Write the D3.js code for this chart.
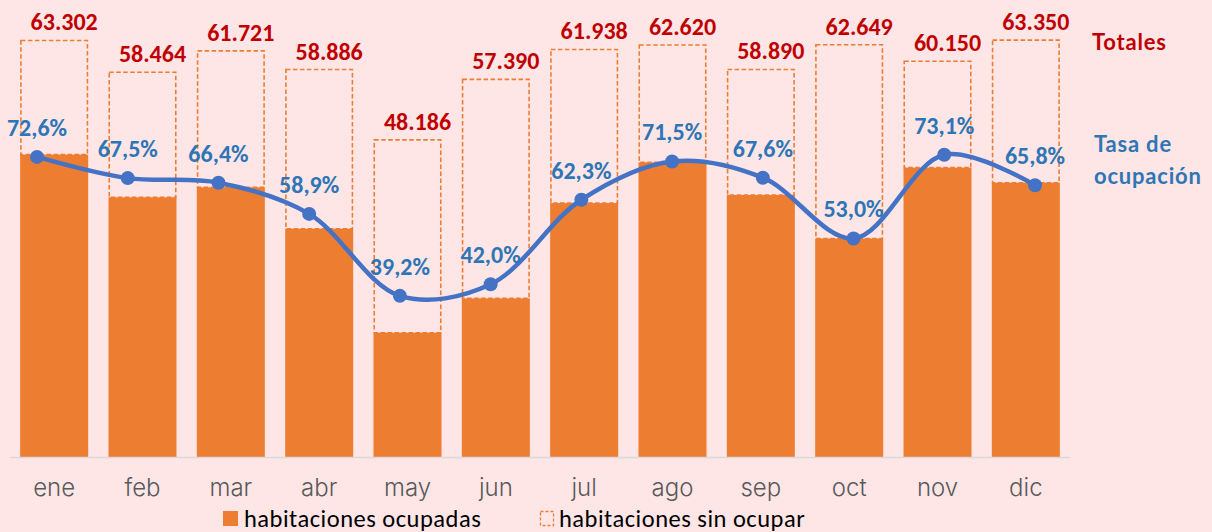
<!DOCTYPE html>
<html>
<head>
<meta charset="utf-8">
<script src="https://cdn.jsdelivr.net/npm/d3@7"></script>
<style>
  html, body { margin: 0; padding: 0; background: #fee6e7; }
  svg { display: block; }
</style>
</head>
<body>
<svg id="chart" width="1212" height="532"></svg>
<script>
// months, totals (rooms), occupied rooms and occupancy rate
const months = ["ene", "feb", "mar", "abr", "may", "jun", "jul", "ago", "sep", "oct", "nov", "dic"];
const totals = [63302, 58464, 61721, 58886, 48186, 57390, 61938, 62620, 58890, 62649, 60150, 63350];
const occupied = [45957, 39463, 40983, 34684, 18889, 24104, 38587, 44773, 39810, 33204, 43970, 41684];
const rate = [72.6, 67.5, 66.4, 58.9, 39.2, 42.0, 62.3, 71.5, 67.6, 53.0, 73.1, 65.8];

const orange = "#ed7d31";
const blue_line = "#4472c4";
const blue_text = "#2e75b6";
const red_text = "#c00000";

const svg = d3.select("#chart");
const fmt_total = (v) => d3.format(",")(v).replace(/,/g, ".");
const fmt_rate = (v) => v.toFixed(1).replace(".", ",") + "%";

const x = d3.scaleBand().domain(months).range([10, 1070]).paddingInner(0.23).paddingOuter(0.115);
// line sits on its own (secondary) category axis
const x2 = d3.scalePoint().domain(months).range([37, 1035]);
const y = d3.scaleLinear().domain([0, 69450]).range([457, 0]);
const y2 = d3.scaleLinear().domain([0, 110.3]).range([459, 0]);

const rows = months.map((m, i) => ({ m, total: totals[i], occ: occupied[i], rate: rate[i] }));

// occupied bars
svg.append("g").selectAll("rect")
  .data(rows).join("rect")
  .attr("x", (d) => x(d.m))
  .attr("width", x.bandwidth())
  .attr("y", (d) => y(d.occ))
  .attr("height", (d) => y(0) - y(d.occ))
  .attr("fill", orange);

// unoccupied part, dashed outline
svg.append("g").selectAll("rect")
  .data(rows).join("rect")
  .attr("x", (d) => x(d.m) + 0.75)
  .attr("width", x.bandwidth() - 1.5)
  .attr("y", (d) => y(d.total))
  .attr("height", (d) => y(d.occ) - y(d.total))
  .attr("fill", "none")
  .attr("stroke", orange)
  .attr("stroke-width", 1.6)
  .attr("stroke-dasharray", "4.5,2.5");

// baseline
svg.append("line")
  .attr("x1", 10).attr("x2", 1070)
  .attr("y1", 457.5).attr("y2", 457.5)
  .attr("stroke", "#d9d9d9").attr("stroke-width", 1.5);

// month labels
svg.append("g").selectAll("text")
  .data(months).join("text")
  .attr("x", (d) => x(d) + x.bandwidth() / 2)
  .attr("y", 496)
  .attr("text-anchor", "middle")
  .attr("font-family", "'Century Gothic', Inter, sans-serif")
  .attr("font-weight", 300)
  .attr("font-size", 24)
  .attr("fill", "#595959")
  .text((d) => d);

// totals
svg.append("g").selectAll("text")
  .data(rows).join("text")
  .attr("x", (d) => x(d.m) + x.bandwidth() / 2 + 10)
  .attr("y", (d) => y(d.total) - 10)
  .attr("text-anchor", "middle")
  .attr("font-family", "Calibri, Lato, sans-serif")
  .attr("font-weight", "bold")
  .attr("font-size", 24)
  .attr("fill", red_text)
  .text((d) => fmt_total(d.total));

// occupancy line
const line = d3.line()
  .x((d) => x2(d.m))
  .y((d) => y2(d.rate))
  .curve(d3.curveCatmullRom.alpha(0.5));

svg.append("path")
  .datum(rows)
  .attr("d", line)
  .attr("fill", "none")
  .attr("stroke", blue_line)
  .attr("stroke-width", 4.5)
  .attr("stroke-linecap", "round");

svg.append("g").selectAll("circle")
  .data(rows).join("circle")
  .attr("cx", (d) => x2(d.m))
  .attr("cy", (d) => y2(d.rate))
  .attr("r", 7)
  .attr("fill", blue_line);

svg.append("g").selectAll("text")
  .data(rows).join("text")
  .attr("x", (d) => x2(d.m))
  .attr("y", (d) => y2(d.rate) - 21)
  .attr("text-anchor", "middle")
  .attr("font-family", "Calibri, Lato, sans-serif")
  .attr("font-weight", "bold")
  .attr("font-size", 24)
  .attr("fill", blue_text)
  .text((d) => fmt_rate(d.rate));

// side labels
const side = svg.append("g")
  .attr("font-family", "'Century Gothic', Lato, sans-serif")
  .attr("font-weight", "bold")
  .attr("font-size", 22)
  .attr("letter-spacing", 0.8);
side.append("text").attr("x", 1092).attr("y", 50).attr("fill", red_text).text("Totales");
side.append("text").attr("x", 1094).attr("y", 152).attr("fill", blue_text).text("Tasa de");
side.append("text").attr("x", 1094).attr("y", 184).attr("fill", blue_text).text("ocupación");

// legend
const legend = svg.append("g")
  .attr("font-family", "Calibri, Lato, sans-serif")
  .attr("font-size", 24.5)
  .attr("letter-spacing", 0.5)
  .attr("fill", "#000");
legend.append("rect").attr("x", 223).attr("y", 511).attr("width", 15).attr("height", 15).attr("fill", orange);
legend.append("text").attr("x", 244).attr("y", 526.5).text("habitaciones ocupadas");
legend.append("rect").attr("x", 540.5).attr("y", 511.5).attr("width", 13).attr("height", 14)
  .attr("fill", "none").attr("stroke", orange).attr("stroke-width", 1.3).attr("stroke-dasharray", "3,2");
legend.append("text").attr("x", 559).attr("y", 526.5).text("habitaciones sin ocupar");
</script>
</body>
</html>
